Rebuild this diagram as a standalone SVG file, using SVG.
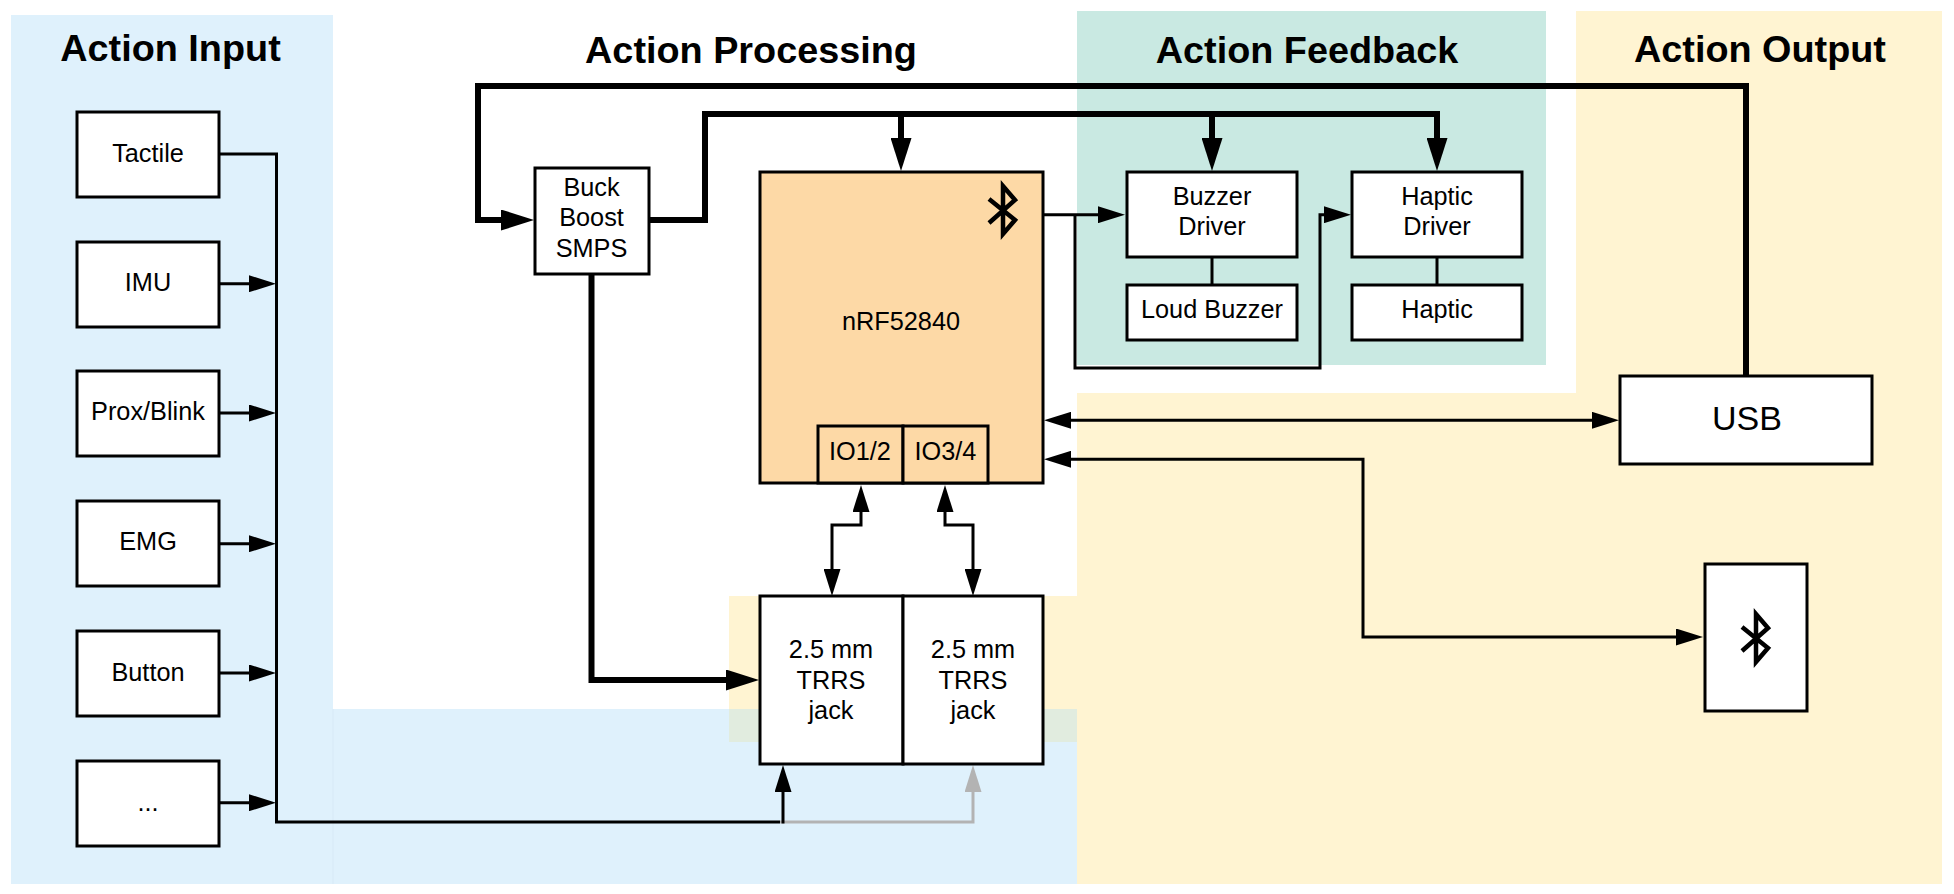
<svg xmlns="http://www.w3.org/2000/svg" width="1954" height="894" viewBox="0 0 1954 894">
<style>
text{font-family:"Liberation Sans",Arial,sans-serif;fill:#000;text-anchor:middle;font-size:25.300px}
.h{font-size:37.800px;font-weight:bold}
.b{fill:#fff;stroke:#000;stroke-width:3}
.o{fill:#fdd9a6;stroke:#000;stroke-width:3}
.c{fill:none;stroke:#000;stroke-width:3}
.g{fill:none;stroke:#b3b3b3;stroke-width:3}
.t{fill:none;stroke:#000;stroke-width:6}
.s{marker-end:url(#a)}
.d{marker-start:url(#a);marker-end:url(#a)}
.l{marker-end:url(#L)}
.bt{fill:none;stroke:#000;stroke-width:4.500}
</style>
<defs>
<marker id="a" markerUnits="userSpaceOnUse" markerWidth="27" markerHeight="17" refX="10" refY="8.500" orient="auto-start-reverse"><path d="M0 0L27 8.500L0 17z" fill="#000"/></marker>
<marker id="g" markerUnits="userSpaceOnUse" markerWidth="27" markerHeight="17" refX="10" refY="8.500" orient="auto"><path d="M0 0L27 8.500L0 17z" fill="#b3b3b3"/></marker>
<marker id="L" markerUnits="userSpaceOnUse" markerWidth="33" markerHeight="21" refX="10" refY="10.500" orient="auto"><path d="M0 0L33 10.500L0 21z" fill="#000"/></marker>
</defs>
<rect width="1954" height="894" fill="#fff"/>
<g id="panels">
<rect x="11" y="15" width="322" height="869" fill="#dff1fc"/>
<rect x="333" y="709" width="744" height="175" fill="#dff1fc"/>
<rect x="332.500" y="709" width="1" height="175" fill="#d7eaf5"/>
<rect x="1077" y="11" width="469" height="354" fill="#c9e9e2"/>
<rect x="1576" y="11" width="366" height="382" fill="#fff4d2"/>
<rect x="1077" y="393" width="865" height="491" fill="#fff4d2"/>
<rect x="729" y="596" width="348" height="113" fill="#fff4d2"/>
<rect x="729" y="709" width="348" height="33" fill="#e1ecdf"/>
</g>
<g id="headers">
<text class="h" x="170.500" y="61">Action Input</text>
<text class="h" x="751" y="63">Action Processing</text>
<text class="h" x="1307" y="63">Action Feedback</text>
<text class="h" x="1760" y="62">Action Output</text>
</g>
<g id="connectors">
<path class="g" d="M780 822H973V782" style="marker-end:url(#g)"/>
<path class="c" d="M219 154H276.500V822H780"/>
<path class="c s" d="M783 823.500V782"/>
<path class="c s" d="M219 283.700H259"/>
<path class="c s" d="M219 413H259"/>
<path class="c s" d="M219 543.700H259"/>
<path class="c s" d="M219 673H259"/>
<path class="c s" d="M219 802.700H259"/>
<path class="c s" d="M1043 214.700H1108"/>
<path class="c s" d="M1075 214.700V368H1320V214.700H1334"/>
<path class="c" d="M1212 257V285"/>
<path class="c" d="M1437 257V285"/>
<path class="c d" d="M861 502V525H832V579"/>
<path class="c d" d="M945 502V525H973V579"/>
<path class="c d" d="M1061 420.300H1602"/>
<path class="c d" d="M1061 459.300H1363V637H1686"/>
<path class="t l" d="M1746 376V86H478V220H511"/>
<path class="t l" d="M649 220H705V114H1437V148"/>
<path class="t l" d="M901 114V148"/>
<path class="t l" d="M1212 114V148"/>
<path class="t l" d="M591.500 274V680H736"/>
</g>
<g id="tactile"><rect class="b" x="77" y="112" width="142" height="85"/><text x="148" y="161.500">Tactile</text></g>
<g id="imu"><rect class="b" x="77" y="242" width="142" height="85"/><text x="148" y="291">IMU</text></g>
<g id="prox"><rect class="b" x="77" y="371" width="142" height="85"/><text x="148" y="420">Prox/Blink</text></g>
<g id="emg"><rect class="b" x="77" y="501" width="142" height="85"/><text x="148" y="550">EMG</text></g>
<g id="button"><rect class="b" x="77" y="631" width="142" height="85"/><text x="148" y="680.500">Button</text></g>
<g id="more"><rect class="b" x="77" y="761" width="142" height="85"/><text x="148" y="811">...</text></g>
<g id="buck"><rect class="b" x="535" y="168" width="114" height="106"/><text x="591.500" y="196">Buck</text><text x="591.500" y="226">Boost</text><text x="591.500" y="256.500">SMPS</text></g>
<g id="nrf">
<rect class="o" x="760" y="172" width="283" height="311"/>
<text x="901" y="329.500">nRF52840</text>
<path class="bt" d="M989 199L1015 220L1003 234V186L1015 200L989 223"/>
</g>
<g id="io12"><rect class="o" x="818" y="426" width="85" height="57"/><text x="860" y="459.500">IO1/2</text></g>
<g id="io34"><rect class="o" x="903" y="426" width="85" height="57"/><text x="945.500" y="459.500">IO3/4</text></g>
<g id="buzzer-driver"><rect class="b" x="1127" y="172" width="170" height="85"/><text x="1212" y="204.500">Buzzer</text><text x="1212" y="234.500">Driver</text></g>
<g id="loud-buzzer"><rect class="b" x="1127" y="285" width="170" height="55"/><text x="1212" y="317.500">Loud Buzzer</text></g>
<g id="haptic-driver"><rect class="b" x="1352" y="172" width="170" height="85"/><text x="1437" y="204.500">Haptic</text><text x="1437" y="234.500">Driver</text></g>
<g id="haptic"><rect class="b" x="1352" y="285" width="170" height="55"/><text x="1437" y="317.500">Haptic</text></g>
<g id="usb"><rect class="b" x="1620" y="376" width="252" height="88"/><text x="1747" y="429.500" style="font-size:34px">USB</text></g>
<g id="bluetooth"><rect class="b" x="1705" y="564" width="102" height="147"/><path class="bt" d="M1742 627L1768 648L1756 662V614L1768 628L1742 651"/></g>
<g id="jack1"><rect class="b" x="760" y="596" width="143" height="168"/><text x="831" y="657.500">2.5 mm</text><text x="831" y="688.500">TRRS</text><text x="831" y="718.500">jack</text></g>
<g id="jack2"><rect class="b" x="903" y="596" width="140" height="168"/><text x="973" y="657.500">2.5 mm</text><text x="973" y="688.500">TRRS</text><text x="973" y="718.500">jack</text></g>
</svg>
